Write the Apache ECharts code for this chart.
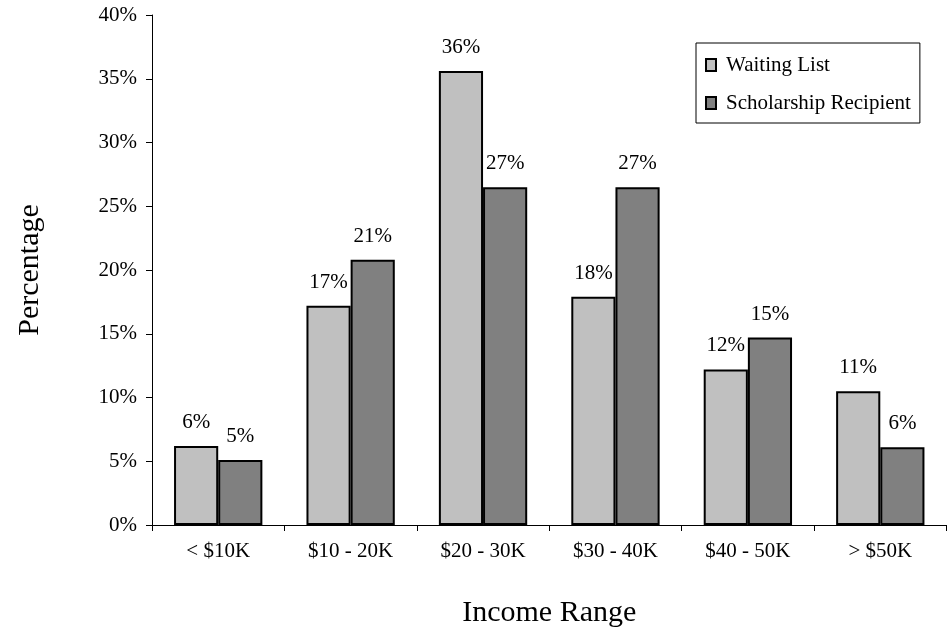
<!DOCTYPE html>
<html>
<head>
<meta charset="utf-8">
<script src="https://cdn.jsdelivr.net/npm/echarts@6/dist/echarts.min.js"></script>
<style>html,body{margin:0;padding:0;background:#fff;}#c{width:948px;height:634px;}</style>
</head>
<body>
<div id="c"></div>
<script>
const categories = ['< $10K', '$10 - 20K', '$20 - 30K', '$30 - 40K', '$40 - 50K', '> $50K'];
const waitingList = [6.2, 17.2, 35.6, 17.9, 12.2, 10.5];
const scholarship = [5.1, 20.8, 26.5, 26.5, 14.7, 6.1];
const yTicks = { min: 0, max: 40, interval: 5 };

const FONT = 'Liberation Serif';
const chart = echarts.init(document.getElementById('c'));
const labelCfg = {
  show: true, position: 'top', distance: 13,
  fontFamily: FONT, fontSize: 21, color: '#000',
  formatter: p => Math.round(p.value) + '%'
};
chart.setOption({
  animation: false,
  backgroundColor: '#fff',
  textStyle: { fontFamily: FONT, color: '#000' },
  grid: { left: 152, right: 1.5, top: 15, bottom: 109, containLabel: false },
  legend: {
    orient: 'vertical', left: 696, top: 43,
    backgroundColor: '#fff', borderColor: '#000', borderWidth: 1,
    padding: [10, 9, 8, 9], itemGap: 14,
    itemWidth: 10, itemHeight: 12, icon: 'rect',
    textStyle: { fontFamily: FONT, fontSize: 21, color: '#000', lineHeight: 24, padding: [0, 0, 0, 5] },
    data: ['Waiting List', 'Scholarship Recipient']
  },
  xAxis: {
    type: 'category', data: categories,
    name: 'Income Range', nameLocation: 'middle', nameGap: 73,
    nameTextStyle: { fontFamily: FONT, fontSize: 30, color: '#000' },
    axisLine: { lineStyle: { color: '#000', width: 1 } },
    axisTick: { show: true, length: 6, lineStyle: { color: '#000' } },
    axisLabel: { fontFamily: FONT, fontSize: 21, color: '#000', margin: 16 },
    splitLine: { show: false }
  },
  yAxis: {
    type: 'value', min: yTicks.min, max: yTicks.max, interval: yTicks.interval,
    name: 'Percentage', nameLocation: 'middle', nameGap: 107,
    nameTextStyle: { fontFamily: FONT, fontSize: 30, color: '#000' },
    axisLine: { show: true, lineStyle: { color: '#000', width: 1 } },
    axisTick: { show: true, length: 6, lineStyle: { color: '#000' } },
    axisLabel: { fontFamily: FONT, fontSize: 21, color: '#000', margin: 15, formatter: v => v + '%' },
    splitLine: { show: false }
  },
  series: [
    {
      name: 'Waiting List', type: 'bar', data: waitingList,
      barGap: '0%', barCategoryGap: '33.3%',
      itemStyle: { color: '#C0C0C0', borderColor: '#000', borderWidth: 2 },
      label: labelCfg
    },
    {
      name: 'Scholarship Recipient', type: 'bar', data: scholarship,
      barGap: '0%', barCategoryGap: '33.3%',
      itemStyle: { color: '#808080', borderColor: '#000', borderWidth: 2 },
      label: labelCfg
    }
  ]
});
</script>
</body>
</html>
